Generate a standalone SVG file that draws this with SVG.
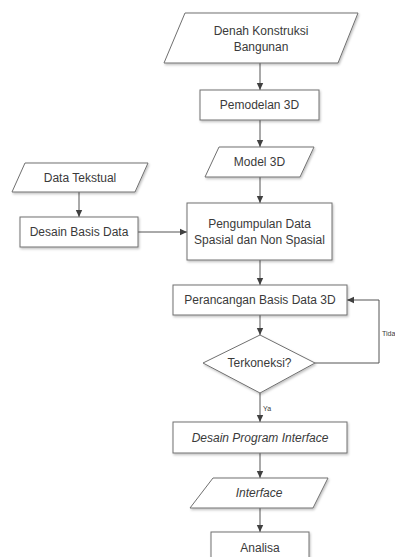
<svg xmlns="http://www.w3.org/2000/svg" width="395" height="557" viewBox="0 0 395 557">
<defs>
<marker id="arr" markerWidth="8" markerHeight="8" refX="7" refY="4" orient="auto" markerUnits="userSpaceOnUse">
<path d="M0,0.8 L7,4 L0,7.2 Z" fill="#404040"/>
</marker>
<filter id="sh" x="-10%" y="-10%" width="130%" height="140%">
<feDropShadow dx="1" dy="1.5" stdDeviation="0.8" flood-color="#000" flood-opacity="0.25"/>
</filter>
</defs>
<style>
.shape{fill:#ffffff;stroke:#707070;stroke-width:1;filter:url(#sh)}
.t{font-family:"Liberation Sans",Arial,sans-serif;font-size:12px;fill:#3a3a3a;text-anchor:middle;dominant-baseline:central}
.it{font-style:italic}
.lbl{font-family:"Liberation Sans",Arial,sans-serif;font-size:7px;fill:#3a3a3a}
.c{fill:none;stroke:#555555;stroke-width:1;marker-end:url(#arr)}
</style>
<rect width="395" height="557" fill="#ffffff"/>
<g id="connectors">
<line class="c" x1="260" y1="63" x2="260" y2="90"/>
<line class="c" x1="260" y1="120" x2="260" y2="147"/>
<line class="c" x1="260" y1="177" x2="260" y2="203"/>
<line class="c" x1="79" y1="192" x2="79" y2="217"/>
<line class="c" x1="138" y1="232" x2="187" y2="232"/>
<line class="c" x1="260" y1="260" x2="260" y2="285"/>
<line class="c" x1="260" y1="315" x2="260" y2="335"/>
<polyline class="c" points="315,363 379,363 379,300 347,300"/>
<line class="c" x1="260" y1="393" x2="260" y2="422"/>
<line class="c" x1="260" y1="453" x2="260" y2="478"/>
<line class="c" x1="260" y1="508" x2="260" y2="532"/>
<text class="lbl" x="382" y="336">Tida</text>
<text class="lbl" x="263" y="411">Ya</text>
</g>
<g id="n1">
<polygon class="shape" points="185,13 358,13 338,63 164,63"/>
<text class="t" x="261" y="31">Denah Konstruksi</text>
<text class="t" x="261" y="47">Bangunan</text>
</g>
<g id="n2">
<rect class="shape" x="200" y="90" width="119" height="30"/>
<text class="t" x="259.5" y="105">Pemodelan 3D</text>
</g>
<g id="n3">
<polygon class="shape" points="219,147 314,147 300,177 205,177"/>
<text class="t" x="259.5" y="162">Model 3D</text>
</g>
<g id="n4">
<polygon class="shape" points="25,163 148,163 135,192 12,192"/>
<text class="t" x="80" y="177.5">Data Tekstual</text>
</g>
<g id="n5">
<rect class="shape" x="20" y="217" width="118" height="30"/>
<text class="t" x="79" y="232">Desain Basis Data</text>
</g>
<g id="n6">
<rect class="shape" x="187" y="203" width="145" height="57"/>
<text class="t" x="259.5" y="223.5">Pengumpulan Data</text>
<text class="t" x="259.5" y="240">Spasial dan Non Spasial</text>
</g>
<g id="n7">
<rect class="shape" x="173" y="285" width="174" height="30"/>
<text class="t" x="260" y="300">Perancangan Basis Data 3D</text>
</g>
<g id="n8">
<polygon class="shape" points="260,335 315,363 260,393 203,363"/>
<text class="t" x="259.5" y="363">Terkoneksi?</text>
</g>
<g id="n9">
<rect class="shape" x="173" y="422" width="174" height="31"/>
<text class="t it" x="260" y="437.5">Desain Program Interface</text>
</g>
<g id="n10">
<polygon class="shape" points="213,478 328,478 313,508 190,508"/>
<text class="t it" x="259" y="493">Interface</text>
</g>
<g id="n11">
<rect class="shape" x="211" y="532" width="98" height="32"/>
<text class="t" x="260" y="548">Analisa</text>
</g>
</svg>
